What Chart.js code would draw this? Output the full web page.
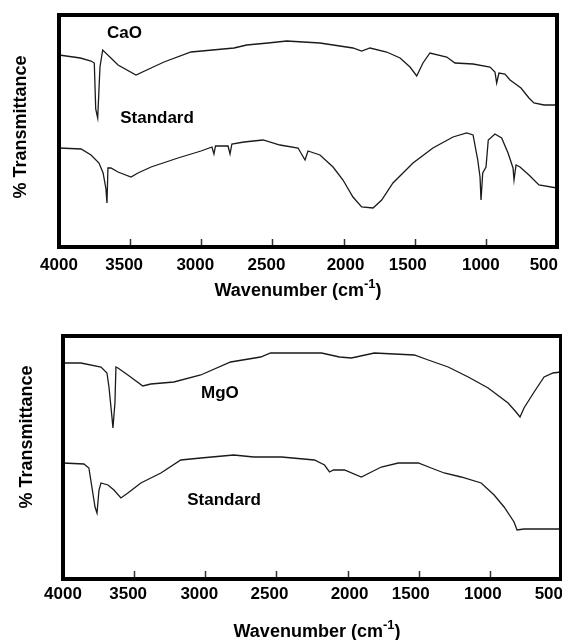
<!DOCTYPE html>
<html><head><meta charset="utf-8">
<script src="https://cdn.jsdelivr.net/npm/chart.js@4/dist/chart.umd.min.js"></script>
<style>
html,body{margin:0;padding:0;background:#fff;overflow:hidden;width:562px;height:640px;position:relative;}
canvas{position:absolute;left:0;}
#c1{top:0}
#c2{top:320px}
</style></head><body>
<canvas id="c1" width="562" height="320"></canvas>
<canvas id="c2" width="562" height="320"></canvas>
<script>
// ---------- DATA (wavenumber in cm-1, transmittance in arbitrary units) ----------
const tickValues = [4000, 3500, 3000, 2500, 2000, 1500, 1000, 500];

const caoWn = [4000, 3850, 3775, 3752, 3742, 3728, 3712, 3693, 3585, 3459, 3353, 3262, 3072, 2770, 2681, 2531, 2400, 2166, 1934, 1873, 1814, 1697, 1603, 1533, 1486, 1442, 1393, 1275, 1217, 1090, 971, 936, 924, 908, 866, 830, 753, 697, 662, 591, 500];
const caoT  = [194, 191, 188, 186, 140, 131, 182, 199, 184, 174, 181, 187, 197, 201, 204, 206, 208, 206, 201, 198, 201, 197, 191, 182, 173, 186, 196, 192, 186, 185, 182, 177, 166, 176, 175, 169, 161, 151, 146, 144, 144];

const caoStdWn = [4000, 3845, 3775, 3719, 3690, 3670, 3663, 3656, 3635, 3585, 3494, 3445, 3353, 3164, 3002, 2925, 2911, 2900, 2812, 2798, 2785, 2700, 2566, 2447, 2320, 2271, 2250, 2166, 2074, 2004, 1934, 1873, 1793, 1732, 1653, 1512, 1372, 1231, 1135, 1090, 1057, 1041, 1034, 1022, 999, 983, 936, 889, 844, 809, 802, 788, 760, 697, 627, 500];
const caoStdT  = [101, 100, 94, 86, 76, 60, 46, 81, 81, 77, 72, 76, 82, 91, 98, 102, 95, 103, 103, 95, 105, 107, 109, 104, 101, 89, 98, 94, 82, 69, 52, 42, 41, 49, 66, 86, 101, 112, 116, 114, 89, 72, 49, 76, 82, 109, 115, 111, 96, 81, 69, 84, 82, 74, 64, 61];

const mgoWn = [4000, 3874, 3733, 3691, 3677, 3656, 3649, 3635, 3628, 3614, 3544, 3439, 3383, 3221, 3032, 2822, 2611, 2541, 2464, 2183, 2057, 1973, 1812, 1531, 1433, 1293, 1152, 1012, 872, 816, 788, 760, 689, 619, 556, 500];
const mgoT  = [216, 216, 212, 206, 192, 162, 151, 176, 212, 211, 204, 193, 195, 197, 204, 217, 222, 226, 226, 226, 222, 221, 226, 224, 219, 212, 202, 191, 176, 167, 162, 171, 187, 202, 206, 207];

const mgoStdWn = [4000, 3853, 3818, 3797, 3775, 3761, 3747, 3733, 3684, 3642, 3593, 3544, 3453, 3312, 3172, 3032, 2800, 2660, 2464, 2233, 2162, 2127, 2099, 2022, 1903, 1833, 1763, 1644, 1503, 1412, 1321, 1202, 1061, 970, 900, 830, 809, 760, 640, 500];
const mgoStdT  = [116, 115, 111, 92, 72, 66, 89, 96, 94, 89, 81, 86, 96, 106, 119, 121, 124, 122, 122, 119, 114, 107, 109, 109, 102, 107, 112, 116, 116, 111, 106, 102, 96, 84, 72, 57, 49, 50, 50, 50];

// ---------- STYLE / LAYOUT ----------
const FONT = '"Liberation Sans", Arial, Helvetica, sans-serif';
const LINE_COLOR = '#1a1a1a';

function pts(wn, t) { return wn.map((w, i) => ({ x: w, y: t[i] })); }

function framePlugin(cfg) {
  return {
    id: 'frameAxis',
    afterDatasetsDraw(chart) {
      const { ctx, chartArea: a } = chart;
      const x = chart.scales.x, y = chart.scales.y;
      ctx.save();
      // frame
      ctx.strokeStyle = '#000';
      ctx.lineWidth = 4;
      ctx.strokeRect(a.left, a.top, a.right - a.left, a.bottom - a.top);
      // inward tick marks
      ctx.lineWidth = 1.5;
      ctx.strokeStyle = '#333';
      tickValues.forEach(v => {
        if (v === x.min || v === x.max) return;
        const px = Math.round(x.getPixelForValue(v)) + 0.5;
        ctx.beginPath();
        ctx.moveTo(px, a.bottom - 2);
        ctx.lineTo(px, a.bottom - 8);
        ctx.stroke();
      });
      // tick labels
      ctx.fillStyle = '#000';
      ctx.font = 'bold 17px ' + FONT;
      ctx.textBaseline = 'middle';
      tickValues.forEach((v, i) => {
        const px = x.getPixelForValue(v);
        let align = 'center', dx = cfg.nudge[v] || 0;
        if (i === tickValues.length - 1) { align = 'right'; dx = cfg.lastDx; }
        ctx.textAlign = align;
        ctx.fillText(String(v), px + dx, a.bottom + cfg.labelDy);
      });
      // x title with superscript
      const t1 = 'Wavenumber (cm', t2 = '-1', t3 = ')';
      ctx.font = 'bold 18px ' + FONT;
      const w1 = ctx.measureText(t1).width, w3 = ctx.measureText(t3).width;
      ctx.font = 'bold 13px ' + FONT;
      const w2 = ctx.measureText(t2).width;
      let sx = cfg.xTitle[0] - (w1 + w2 + w3) / 2;
      const by = cfg.xTitle[1];
      ctx.textAlign = 'left';
      ctx.textBaseline = 'alphabetic';
      ctx.font = 'bold 18px ' + FONT;
      ctx.fillText(t1, sx, by);
      ctx.font = 'bold 13px ' + FONT;
      ctx.fillText(t2, sx + w1, by - 8);
      ctx.font = 'bold 18px ' + FONT;
      ctx.fillText(t3, sx + w1 + w2, by);
      // y title
      ctx.save();
      ctx.translate(cfg.yTitle[0], cfg.yTitle[1]);
      ctx.rotate(-Math.PI / 2);
      ctx.textAlign = 'center';
      ctx.textBaseline = 'middle';
      ctx.font = 'bold 18px ' + FONT;
      ctx.fillText('% Transmittance', 0, 0);
      ctx.restore();
      // series annotations
      ctx.font = 'bold 17px ' + FONT;
      ctx.textAlign = 'center';
      ctx.textBaseline = 'middle';
      cfg.notes.forEach(n => {
        ctx.fillText(n.text, x.getPixelForValue(n.x), y.getPixelForValue(n.y));
      });
      ctx.restore();
    }
  };
}

function makeChart(id, series, yMin, yMax, padding, cfg) {
  return new Chart(document.getElementById(id), {
    type: 'line',
    data: {
      datasets: series.map(s => ({
        label: s.label,
        data: pts(s.wn, s.t),
        borderColor: LINE_COLOR,
        borderWidth: 1.3,
        pointRadius: 0,
        tension: 0,
        fill: false
      }))
    },
    options: {
      responsive: false,
      devicePixelRatio: 1,
      animation: false,
      layout: { padding },
      plugins: { legend: { display: false }, tooltip: { enabled: false } },
      scales: {
        x: { type: 'linear', min: 500, max: 4000, reverse: true, display: false },
        y: { type: 'linear', min: yMin, max: yMax, display: false }
      }
    },
    plugins: [framePlugin(cfg)]
  });
}

makeChart('c1',
  [{ label: 'CaO', wn: caoWn, t: caoT }, { label: 'Standard', wn: caoStdWn, t: caoStdT }],
  2, 234,
  { left: 59, right: 5, top: 15, bottom: 73 },
  {
    nudge: { 3500: -6, 3000: -6, 2500: -6, 2000: 2, 1500: -7, 1000: -5 },
    lastDx: 1, labelDy: 18,
    xTitle: [298, 296], yTitle: [21, 127],
    notes: [{ text: 'CaO', x: 3540, y: 216 }, { text: 'Standard', x: 3311, y: 131 }]
  });

makeChart('c2',
  [{ label: 'MgO', wn: mgoWn, t: mgoT }, { label: 'Standard', wn: mgoStdWn, t: mgoStdT }],
  0, 243,
  { left: 63, right: 1, top: 16, bottom: 61 },
  {
    nudge: { 3500: -6, 3000: -6, 2500: -7, 2000: 2, 1500: -8, 1000: -7 },
    lastDx: 2, labelDy: 15,
    xTitle: [317, 317], yTitle: [27, 117],
    notes: [{ text: 'MgO', x: 2897, y: 186 }, { text: 'Standard', x: 2868, y: 79 }]
  });
</script>
</body></html>
